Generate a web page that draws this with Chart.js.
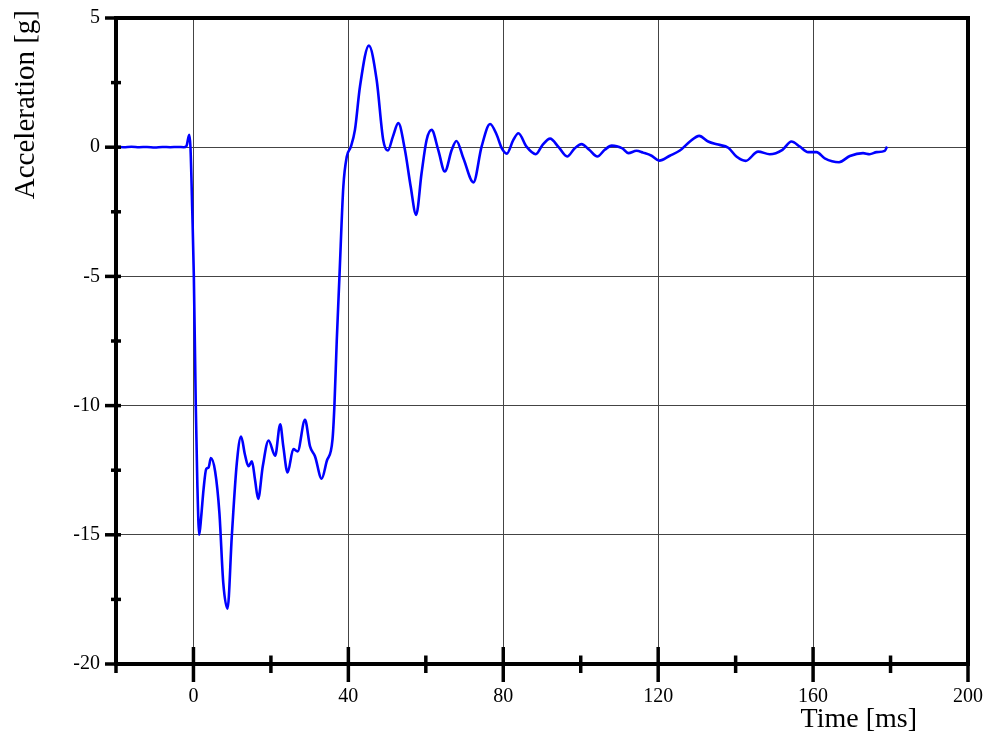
<!DOCTYPE html>
<html>
<head>
<meta charset="utf-8">
<script src="https://cdn.jsdelivr.net/npm/chart.js@4.4.1/dist/chart.umd.min.js"></script>
<style>
  html, body { margin: 0; padding: 0; background: #fff; }
  #wrap { width: 984px; height: 734px; }
</style>
</head>
<body>
<div id="wrap"><canvas id="c" width="984" height="734"></canvas></div>
<script>
// ---- data ----
const timeMs = [
  -20, -18, -16, -14, -12, -10, -8, -6, -4, -2.5, -1.8, -1.1, -0.77, -0.3, 0.1, 0.6, 1.0, 1.5,
  2.0, 2.6, 3.3, 3.9, 4.5, 5.6, 6.7, 7.7, 8.8, 9.9, 11.2, 12.3, 13.3, 14.2, 15.1, 15.9, 16.7,
  17.9, 19.4, 21.1, 22.4, 23.2, 24.3, 25.8, 26.9, 28.8, 30.1, 31.4, 33.1, 34.4, 35.9, 36.4,
  37.0, 37.7, 38.7, 39.6, 40.6, 41.7, 43.0, 45.3, 47.3, 49.0, 50.2, 51.5, 52.9, 54.6, 56.1,
  57.5, 58.9, 60.2, 61.5, 63.2, 64.9, 66.7, 67.9, 69.7, 72.3, 74.4, 76.6, 78.3, 79.6, 80.9,
  82.6, 83.9, 86.0, 88.4, 90.2, 92.1, 94.3, 96.5, 98.4, 100.2, 102.2, 104.3, 106.2, 108.0,
  109.3, 110.8, 112.3, 114.4, 116.1, 118.3, 120.3, 123.0, 125.6, 128.2, 130.6, 132.9, 135.5,
  138.1, 140.2, 142.6, 145.8, 148.8, 152.1, 154.4, 156.6, 158.7, 160.9, 163.0, 166.7, 169.5,
  172.9, 174.6, 176.4, 178.5, 179.1
];
const accelG = [
  0.01, 0.0, 0.02, 0.0, 0.01, -0.01, 0.01, 0.0, 0.01, 0.0, 0.05, 0.48, 0.0, -2.5, -5.0, -10.0, -13.0, -15.0,
  -14.3, -13.25, -12.45, -12.4, -12.03, -12.55, -14.15, -16.86, -17.86, -15.06, -12.22, -11.2, -11.9, -12.35, -12.16, -12.87, -13.61,
  -12.35, -11.35, -11.94, -10.72, -11.58, -12.59, -11.68, -11.77, -10.55, -11.58, -11.97, -12.83, -12.16, -11.32, -10.0,
  -7.5, -5.0, -1.53, -0.36, 0.0, 0.67, 2.35, 3.93, 2.61, 0.28, -0.13, 0.41, 0.93, -0.1, -1.53,
  -2.62, -1.01, 0.28, 0.67, -0.1, -0.94, -0.1, 0.24, -0.43, -1.36, 0.02, 0.9, 0.48, -0.04, -0.25,
  0.28, 0.54, 0.02, -0.27, 0.1, 0.33, 0.0, -0.36, -0.05, 0.12, -0.1, -0.36, -0.1, 0.06,
  0.04, -0.05, -0.23, -0.14, -0.21, -0.33, -0.52, -0.33, -0.13, 0.22, 0.44, 0.22, 0.1,
  -0.02, -0.36, -0.53, -0.17, -0.27, -0.1, 0.22, 0.02, -0.19, -0.19, -0.43, -0.58, -0.34,
  -0.23, -0.27, -0.19, -0.14, 0.02
];
const xTickValues = [-20, 0, 20, 40, 60, 80, 100, 120, 140, 160, 180, 200];
const xTickLabels = [0, 40, 80, 120, 160, 200];
const yTickLabels = [5, 0, -5, -10, -15, -20];
const yMinorTicks = [2.5, -2.5, -7.5, -12.5, -17.5];
const xTitle = 'Time [ms]';
const yTitle = 'Acceleration [g]';

const SERIF = "'Liberation Serif', 'Times New Roman', serif";

const framePlugin = {
  id: 'frame',
  afterDraw(chart) {
    const ctx = chart.ctx;
    const a = chart.chartArea;
    const xs = chart.scales.x, ys = chart.scales.y;
    ctx.save();
    ctx.strokeStyle = '#000';
    ctx.lineCap = 'butt';
    // frame
    ctx.lineWidth = 4;
    ctx.strokeRect(a.left, a.top, a.right - a.left, a.bottom - a.top);
    // x ticks
    ctx.lineWidth = 3.5;
    xTickValues.forEach(v => {
      const px = xs.getPixelForValue(v);
      const major = xTickLabels.includes(v);
      ctx.beginPath();
      if (major) { ctx.moveTo(px, a.bottom - 17); ctx.lineTo(px, a.bottom + 18); }
      else { ctx.moveTo(px, a.bottom - 8.5); ctx.lineTo(px, a.bottom + 9); }
      ctx.stroke();
    });
    // y ticks
    yTickLabels.forEach(v => {
      const py = ys.getPixelForValue(v);
      ctx.beginPath(); ctx.moveTo(a.left - 11, py); ctx.lineTo(a.left + 5, py); ctx.stroke();
    });
    yMinorTicks.forEach(v => {
      const py = ys.getPixelForValue(v);
      ctx.beginPath(); ctx.moveTo(a.left - 5, py); ctx.lineTo(a.left + 5, py); ctx.stroke();
    });
    // titles
    ctx.fillStyle = '#000';
    ctx.font = '28px ' + SERIF;
    ctx.textAlign = 'right';
    ctx.textBaseline = 'alphabetic';
    ctx.fillText(xTitle, 917, 727);
    ctx.translate(33.5, 10);
    ctx.rotate(-Math.PI / 2);
    ctx.font = '29px ' + SERIF;
    ctx.textAlign = 'right';
    ctx.fillText(yTitle, 0, 0);
    ctx.restore();
  }
};

new Chart(document.getElementById('c'), {
  type: 'line',
  data: {
    datasets: [{
      data: timeMs.map((t, i) => ({ x: t, y: accelG[i] })),
      borderColor: '#0000ff',
      borderWidth: 2.6,
      pointRadius: 0,
      fill: false,
      cubicInterpolationMode: 'monotone'
    }]
  },
  options: {
    responsive: false,
    animation: false,
    layout: { padding: { top: 18, right: 16, left: 0, bottom: 0 } },
    plugins: { legend: { display: false }, tooltip: { enabled: false } },
    scales: {
      x: {
        type: 'linear', min: -20, max: 200,
        afterBuildTicks: s => { s.ticks = xTickValues.map(v => ({ value: v })); },
        afterFit: s => { s.height = 70; s.paddingLeft = 0; s.paddingRight = 0; },
        border: { display: false },
        grid: {
          drawTicks: false, lineWidth: 1,
          color: c => (c.tick && xTickLabels.includes(c.tick.value) && c.tick.value !== 200) ? '#444' : 'rgba(0,0,0,0)'
        },
        ticks: {
          autoSkip: false, maxRotation: 0, padding: 21, color: '#000',
          font: { family: SERIF, size: 20 },
          callback: v => xTickLabels.includes(v) ? String(v) : ''
        }
      },
      y: {
        type: 'linear', min: -20, max: 5,
        afterBuildTicks: s => { s.ticks = yTickLabels.map(v => ({ value: v })); },
        afterFit: s => { s.width = 116; s.paddingTop = 0; s.paddingBottom = 0; },
        border: { display: false },
        grid: {
          drawTicks: false, lineWidth: 1,
          color: c => (c.tick && c.tick.value < 5 && c.tick.value > -20) ? '#444' : 'rgba(0,0,0,0)'
        },
        ticks: {
          padding: 16, color: '#000',
          font: { family: SERIF, size: 20 },
          callback: v => String(v)
        }
      }
    }
  },
  plugins: [framePlugin]
});
</script>
</body>
</html>
